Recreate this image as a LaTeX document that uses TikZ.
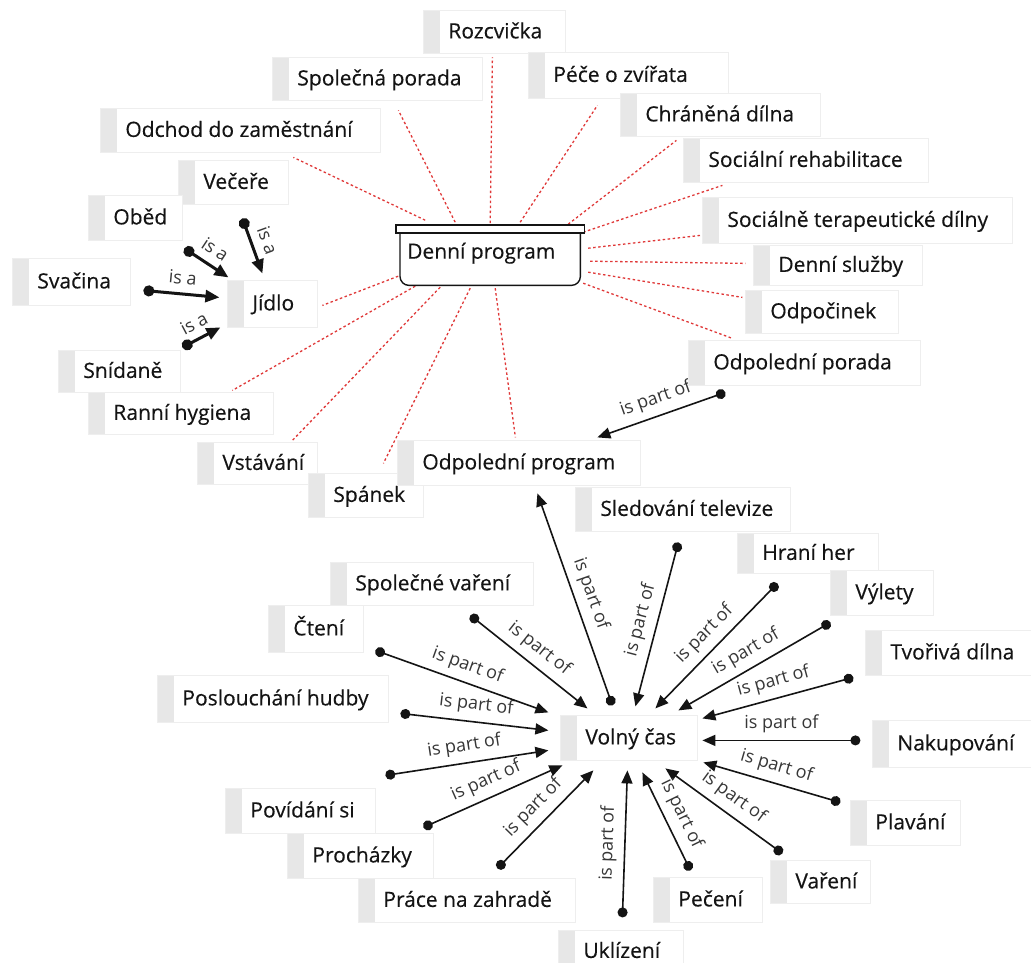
\documentclass[tikz,border=0pt]{standalone}
\usepackage{fontspec}
\setmainfont{Open Sans}
\newfontfamily\conceptfont{Open Sans}[FakeBold=0.3]
\usetikzlibrary{calc,arrows.meta,backgrounds}

\definecolor{stripgray}{RGB}{231,231,231}
\definecolor{boxline}{RGB}{238,238,238}
\definecolor{dotred}{RGB}{224,56,56}
\definecolor{ink}{RGB}{20,20,20}
\definecolor{lblink}{RGB}{55,55,55}

% concept box: name, left, top, width, height, text
\newcommand\concept[6]{%
  \node[concept, minimum height=#5pt] (#1) at (#2,#3) {\hbox to #4pt{\hskip 25pt #6\hfil}};}

\begin{document}
\begin{tikzpicture}[x=1pt, y=-1pt,
  concept/.style={draw=boxline, line width=0.8pt, fill=white, inner sep=0pt,
    anchor=north west, font=\conceptfont\fontsize{21}{25}\selectfont, text=ink,
    text height=17pt, text depth=4pt,
    path picture={\fill[stripgray] (path picture bounding box.north west)
      rectangle ([xshift=17pt]path picture bounding box.south west);}},
  rel/.style={dotred, line width=1.3pt, dash pattern=on 2.5pt off 2.5pt},
  isa/.style={ink, line width=3pt, {Circle[length=11pt]}-{Triangle[length=14pt,width=12pt]}},
  partof/.style={ink, line width=1.6pt, {Circle[length=10pt]}-{Triangle[length=13pt,width=11pt]}},
  lbl/.style={font=\fontsize{18}{20}\selectfont, text=lblink, sloped, above, inner sep=7pt, pos=0.5},
  isalbl/.style={lbl, inner sep=8pt}]

\useasboundingbox (0,0) rectangle (1031,963);

% ---- Denní program and its activities ----
\node[inner sep=0pt, anchor=north west, minimum width=180pt, minimum height=52pt,
  font=\conceptfont\fontsize{21}{25}\selectfont, text=ink, text height=8pt, text depth=9pt]
  (dp) at (400,233) {\hbox to 180pt{\hskip 7pt Denní program\hfil}};
\draw[ink, line width=1.4pt, rounded corners=9pt]
  (dp.north west) -- (dp.south west) -- (dp.south east) -- (dp.north east);
\draw[ink, line width=1.4pt, fill=white]
  ($(dp.north west)+(-4,-8)$) rectangle ($(dp.north east)+(4,0)$);

\concept{rozc}{423}{10}{142}{43}{Rozcvička}
\concept{spor}{272}{57}{210}{43}{Společná porada}
\concept{pece}{528}{52}{200}{46}{Péče o zvířata}
\concept{chran}{620}{93}{200}{43}{Chráněná dílna}
\concept{odch}{100}{108}{280}{44}{Odchod do zaměstnání}
\concept{socreh}{683}{138}{245}{44}{Sociální rehabilitace}
\concept{vec}{178}{160}{110}{44}{Večeře}
\concept{socter}{702}{197}{310}{46}{Sociálně terapeutické dílny}
\concept{obed}{88}{195}{94}{45}{Oběd}
\concept{dsl}{753}{245}{169}{40}{Denní služby}
\concept{svac}{12}{258}{118}{47}{Svačina}
\concept{jidlo}{227}{280}{90}{47}{Jídlo}
\concept{odpoc}{745}{290}{153}{43}{Odpočinek}
\concept{odpor}{688}{340}{232}{45}{Odpolední porada}
\concept{snid}{58}{350}{122}{42}{Snídaně}
\concept{ranni}{88}{392}{185}{42}{Ranní hygiena}
\concept{vsta}{197}{442}{120}{42}{Vstávání}
\concept{span}{308}{473}{115}{44}{Spánek}
\concept{opr}{397}{440}{243}{45}{Odpolední program}

% ---- Volný čas and its activities ----
\concept{sled}{575}{487}{215}{44}{Sledování televize}
\concept{hrani}{737}{533}{141}{40}{Hraní her}
\concept{vylety}{830}{570}{103}{45}{Výlety}
\concept{tvor}{865}{630}{166}{45}{Tvořivá dílna}
\concept{nak}{872}{720}{159}{47}{Nakupování}
\concept{plav}{850}{800}{110}{45}{Plavání}
\concept{var}{770}{860}{100}{43}{Vaření}
\concept{pec}{653}{877}{109}{45}{Pečení}
\concept{ukl}{558}{930}{125}{42}{Uklízení}
\concept{prace}{358}{878}{217}{44}{Práce na zahradě}
\concept{proch}{287}{833}{146}{45}{Procházky}
\concept{povid}{225}{788}{150}{45}{Povídání si}
\concept{posl}{157}{675}{231}{47}{Poslouchání hudby}
\concept{cteni}{268}{605}{95}{47}{Čtení}
\concept{spvar}{330}{562}{203}{43}{Společné vaření}
\concept{volny}{560}{715}{137}{45}{Volný čas}

\begin{pgfonlayer}{background}
\fill[white] (0,0) rectangle (1031,963);

% dotted links of the daily programme
\draw[rel] ($(dp)+(0,-36)$)   -- ($(rozc)+(-2,25.5)$);
\draw[rel] ($(dp)+(-35,-37)$) -- ($(spor)+(21,31.5)$);
\draw[rel] ($(dp)+(30,-37)$)  -- ($(pece)+(-31,30)$);
\draw[rel] ($(dp)+(78,-35)$)  -- ($(chran)+(-44,25.5)$);
\draw[rel] ($(dp)+(-65,-39)$) -- ($(odch)+(53,27)$);
\draw[rel] ($(dp)+(93,-27)$)  -- ($(socreh)+(-83.5,25)$);
\draw[rel] ($(dp)+(98,-11)$)  -- ($(socter)+(-157,15)$);
\draw[rel] ($(dp)+(100,2)$)   -- ($(dsl)+(-92.5,-2)$);
\draw[rel] ($(dp)+(98,13)$)   -- ($(odpoc)+(-79.5,-14.5)$);
\draw[rel] ($(dp)+(93,24)$)   -- ($(odpor)+(-72,-24.5)$);
\draw[rel] ($(dp)+(-92,17)$)  -- ($(jidlo)+(50,1.5)$);
\draw[rel] ($(dp)+(-75,27)$)  -- ($(ranni)+(51.5,-23)$);
\draw[rel] ($(dp)+(-50,28)$)  -- ($(vsta)+(35,-23)$);
\draw[rel] ($(dp)+(-20,29)$)  -- ($(span)+(17.5,-32)$);
\draw[rel] ($(dp)+(5,29)$)    -- ($(opr)+(-3.5,-25.5)$);

% meals
\draw[isa] ($(vec)+(9,36)$)    -- ($(jidlo)+(-10,-30.5)$) node[isalbl] {is a};
\draw[isa] ($(obed)+(49,30.5)$) -- ($(jidlo)+(-44,-26.5)$) node[isalbl] {is a};
\draw[isa] ($(svac)+(72,8.5)$)  -- ($(jidlo)+(-53,-6.5)$) node[isalbl] {is a};
\draw[isa] ($(snid)+(63,-24)$)  -- ($(jidlo)+(-52,23.5)$) node[isalbl] {is a};

% afternoon programme
\draw[partof] ($(odpor)+(-79,29.5)$)   -- ($(opr)+(78.5,-25.5)$) node[lbl] {is part of};
\draw[partof] ($(volny)+(-16.5,-32.5)$) -- ($(opr)+(18.5,30.5)$) node[lbl] {is part of};

% free time
\draw[partof] ($(sled)+(-4.5,33)$)    -- ($(volny)+(6.5,-31.5)$)  node[lbl] {is part of};
\draw[partof] ($(hrani)+(-30.5,30)$)  -- ($(volny)+(26.5,-29.5)$) node[lbl] {is part of};
\draw[partof] ($(vylety)+(-51.5,29.5)$) -- ($(volny)+(49.5,-27.5)$) node[lbl] {is part of};
\draw[partof] ($(tvor)+(-95,24.5)$)   -- ($(volny)+(73.5,-19.5)$) node[lbl] {is part of};
\draw[partof] ($(nak)+(-91.5,-3.5)$)  -- ($(volny)+(73.5,2.5)$)   node[lbl] {is part of};
\draw[partof] ($(plav)+(-65,-20.5)$)  -- ($(volny)+(74.5,24.5)$)  node[lbl] {is part of};
\draw[partof] ($(var)+(-38,-28.5)$)   -- ($(volny)+(36.5,30.5)$)  node[lbl] {is part of};
\draw[partof] ($(pec)+(-17.5,-29.5)$) -- ($(volny)+(13.5,34.5)$)  node[lbl] {is part of};
\draw[partof] ($(ukl)+(1.5,-34)$)     -- ($(volny)+(-1.5,32.5)$)  node[lbl] {is part of};
\draw[partof] ($(prace)+(30.5,-32)$)  -- ($(volny)+(-35.5,32.5)$) node[lbl] {is part of};
\draw[partof] ($(proch)+(63,-28.5)$)  -- ($(volny)+(-66.5,27.5)$) node[lbl] {is part of};
\draw[partof] ($(povid)+(85,-35.5)$)  -- ($(volny)+(-80.5,12.5)$) node[lbl] {is part of};
\draw[partof] ($(posl)+(127.5,14.5)$) -- ($(volny)+(-80.5,-7.5)$) node[lbl] {is part of};
\draw[partof] ($(cteni)+(59.5,21.5)$) -- ($(volny)+(-80.5,-25.5)$) node[lbl] {is part of};
\draw[partof] ($(spvar)+(38.5,31.5)$) -- ($(volny)+(-41.5,-29.5)$) node[lbl] {is part of};
\end{pgfonlayer}

\end{tikzpicture}
\end{document}
